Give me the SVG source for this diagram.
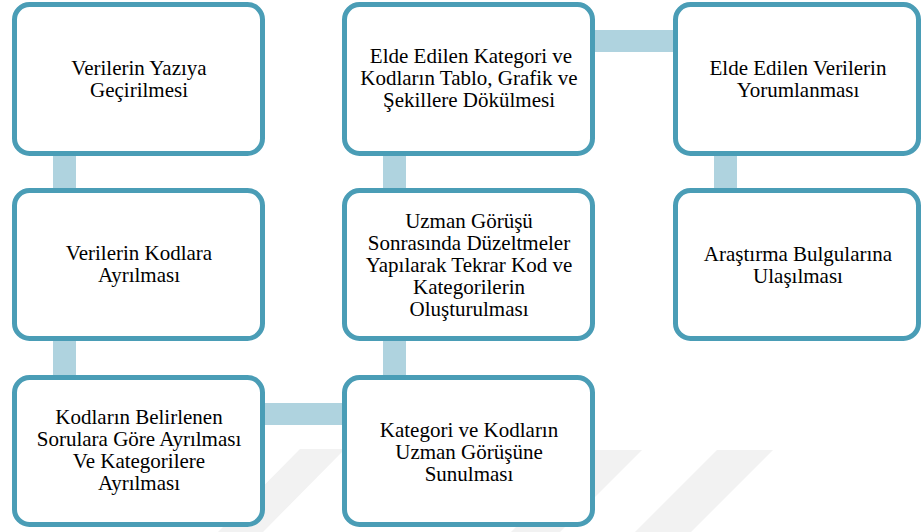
<svg xmlns="http://www.w3.org/2000/svg" width="921" height="532" viewBox="0 0 921 532">
  <style>
    .node rect { fill: #ffffff; stroke: #4a9db6; stroke-width: 5; }
    .node text { font-family: "Liberation Serif", "Times New Roman", serif; font-size: 21px; fill: #000000; text-anchor: middle; }
    .link { fill: #afd3df; }
    .mark { fill: #f2f2f2; }
  </style>
  <rect width="921" height="532" fill="#ffffff"/>

  <!-- faint background stripes -->
  <g id="backdrop">
    <polygon class="mark" points="300,449 345,449 263,532 218,532"/>
    <polygon class="mark" points="593,450 642,450 560,532 511,532"/>
    <polygon class="mark" points="717,450 773,450 691,532 635,532"/>
  </g>

  <!-- connectors: thick bars running under the boxes -->
  <g id="connectors">
    <rect class="link" x="53" y="150" width="23" height="45"/>
    <rect class="link" x="53" y="335" width="23" height="45"/>
    <rect class="link" x="260" y="403" width="88" height="22"/>
    <rect class="link" x="383" y="335" width="23" height="45"/>
    <rect class="link" x="383" y="150" width="23" height="45"/>
    <rect class="link" x="590" y="30" width="88" height="22"/>
    <rect class="link" x="714" y="150" width="23" height="45"/>
  </g>

  <g id="n1" class="node">
    <rect x="14.5" y="4.5" width="248" height="149" rx="15"/>
    <text x="139" y="75">Verilerin Yazıya</text>
    <text x="139" y="97">Geçirilmesi</text>
  </g>

  <g id="n2" class="node">
    <rect x="14.5" y="190.5" width="248" height="148" rx="15"/>
    <text x="139" y="260">Verilerin Kodlara</text>
    <text x="139" y="282">Ayrılması</text>
  </g>

  <g id="n3" class="node">
    <rect x="14.5" y="377.5" width="248" height="147" rx="15"/>
    <text x="139" y="424">Kodların Belirlenen</text>
    <text x="139" y="446">Sorulara Göre Ayrılması</text>
    <text x="139" y="468">Ve Kategorilere</text>
    <text x="139" y="490">Ayrılması</text>
  </g>

  <g id="n4" class="node">
    <rect x="344.5" y="377.5" width="248" height="147" rx="15"/>
    <text x="469" y="437">Kategori ve Kodların</text>
    <text x="469" y="459">Uzman Görüşüne</text>
    <text x="469" y="481">Sunulması</text>
  </g>

  <g id="n5" class="node">
    <rect x="344.5" y="190.5" width="248" height="148" rx="15"/>
    <text x="469" y="228">Uzman Görüşü</text>
    <text x="469" y="250">Sonrasında Düzeltmeler</text>
    <text x="469" y="272">Yapılarak Tekrar Kod ve</text>
    <text x="469" y="294">Kategorilerin</text>
    <text x="469" y="316">Oluşturulması</text>
  </g>

  <g id="n6" class="node">
    <rect x="344.5" y="4.5" width="248" height="149" rx="15"/>
    <text x="471" y="63">Elde Edilen Kategori ve</text>
    <text x="469" y="85">Kodların Tablo, Grafik ve</text>
    <text x="469" y="107">Şekillere Dökülmesi</text>
  </g>

  <g id="n7" class="node">
    <rect x="675.5" y="4.5" width="243" height="149" rx="15"/>
    <text x="798" y="75">Elde Edilen Verilerin</text>
    <text x="798" y="97">Yorumlanması</text>
  </g>

  <g id="n8" class="node">
    <rect x="675.5" y="190.5" width="243" height="148" rx="15"/>
    <text x="798" y="261">Araştırma Bulgularına</text>
    <text x="798" y="283">Ulaşılması</text>
  </g>
</svg>
